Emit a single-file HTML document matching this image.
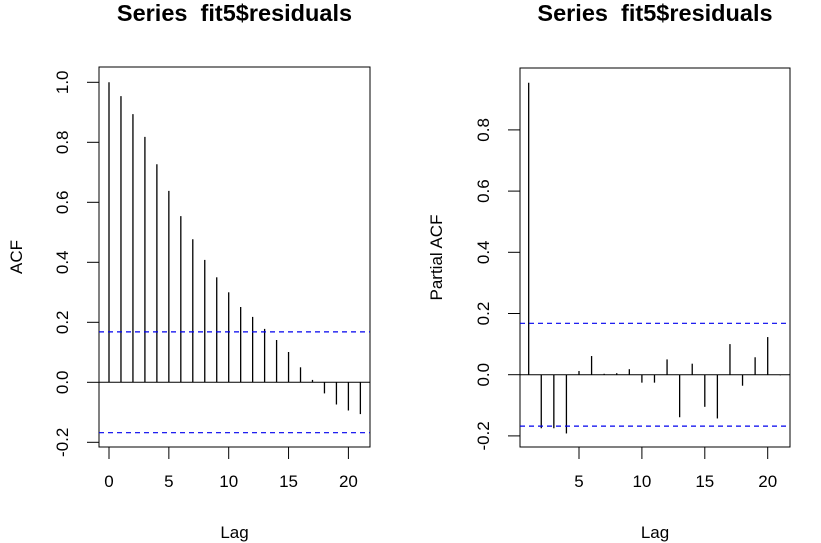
<!DOCTYPE html>
<html><head><meta charset="utf-8"><style>
html,body{margin:0;padding:0;background:#fff}
svg{display:block;font-family:"Liberation Sans",Arial,sans-serif}
</style></head><body>
<svg id="c" width="821" height="543" viewBox="0 0 821 543"></svg>
<script>
const acfLags=[0,1,2,3,4,5,6,7,8,9,10,11,12,13,14,15,16,17,18,19,20,21];
const acfVals=[1,0.954,0.894,0.818,0.727,0.638,0.554,0.477,0.408,0.35,0.30,0.251,0.218,0.178,0.141,0.101,0.05,0.008,-0.037,-0.074,-0.094,-0.106];
const pacfLags=[1,2,3,4,5,6,7,8,9,10,11,12,13,14,15,16,17,18,19,20,21];
const pacfVals=[0.954,-0.175,-0.175,-0.192,0.012,0.061,0.003,0.005,0.018,-0.026,-0.026,0.05,-0.139,0.036,-0.105,-0.143,0.1,-0.036,0.057,0.123,-0.002];
const ciBound=[0.168];
const acfYTicks=[-0.2,0,0.2,0.4,0.6,0.8,1.0];
const pacfYTicks=[-0.2,0,0.2,0.4,0.6,0.8];
const acfXTicks=[0,5,10,15,20];
const pacfXTicks=[5,10,15,20];
const NS='http://www.w3.org/2000/svg';
const svg=document.getElementById('c');
function mk(t,a,p){const e=document.createElementNS(NS,t);for(const k in a)e.setAttribute(k,a[k]);(p||svg).appendChild(e);return e;}
function panel(o){
  const g=mk('g',{});
  
  
  const X=v=>o.x0+(v-o.l0)*o.dx, Y=v=>o.y0-v*o.dy;
  const box=mk('rect',{x:o.bx,y:o.by,width:o.bw,height:o.bh,fill:'none',stroke:'#000','stroke-width':1},g);
  
  const t=mk('text',{x:o.bx+o.bw/2,y:21,'text-anchor':'middle','font-size':23.5,'font-weight':'bold','xml:space':'preserve',style:'white-space:pre'},g);t.textContent='Series  fit5$residuals';
  
  const zl=mk('line',{x1:o.bx,x2:o.bx+o.bw,y1:Y(0),y2:Y(0),stroke:'#000'},g);
  
  o.lags.forEach((l,i)=>{const b=mk('line',{x1:X(l),x2:X(l),y1:Y(0),y2:Y(o.vals[i]),stroke:'#000','stroke-width':1.3},g);
    });
  [ciBound[0],-ciBound[0]].forEach(v=>{const c=mk('line',{x1:o.bx,x2:o.bx+o.bw,y1:Y(v),y2:Y(v),stroke:'#0000ee','stroke-width':1.2,'stroke-dasharray':'5,4'},g);
    });
  o.yt.forEach(v=>{const y=Y(v);mk('line',{x1:o.bx-12,x2:o.bx,y1:y,y2:y,stroke:'#000'},g);
    const tx=mk('text',{x:o.bx-31,y:y,'text-anchor':'middle','font-size':17,transform:`rotate(-90 ${o.bx-31} ${y})`},g);
    tx.textContent=v.toFixed(1);});
  const by=o.by+o.bh;
  o.xt.forEach(v=>{const x=X(v);mk('line',{x1:x,x2:x,y1:by,y2:by+12,stroke:'#000'},g);
    const tx=mk('text',{x:x,y:by+40,'text-anchor':'middle','font-size':17},g);tx.textContent=v;
    });
  const xl=mk('text',{x:o.bx+o.bw/2,y:538,'text-anchor':'middle','font-size':17},g);xl.textContent='Lag';
  
  const yl=mk('text',{x:o.ylx,y:o.by+o.bh/2,'text-anchor':'middle','font-size':17,transform:`rotate(-90 ${o.ylx} ${o.by+o.bh/2})`},g);yl.textContent=o.ylab;
  
}
panel({name:'acf-panel',bx:99,by:67,bw:271,bh:380,x0:109,l0:0,dx:11.97,y0:382.3,dy:300,lags:acfLags,vals:acfVals,yt:acfYTicks,xt:acfXTicks,ylab:'ACF',ylx:22});
panel({name:'pacf-panel',bx:520,by:68,bw:270,bh:379,x0:579,l0:5,dx:12.58,y0:374.7,dy:306,lags:pacfLags,vals:pacfVals,yt:pacfYTicks,xt:pacfXTicks,ylab:'Partial ACF',ylx:442});
</script>
</body></html>
